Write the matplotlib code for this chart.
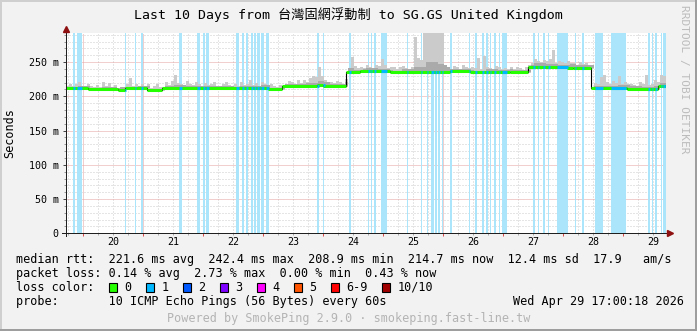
import numpy as np
import matplotlib
matplotlib.use("agg")
import matplotlib.pyplot as plt
from matplotlib.patches import Rectangle

W, H = 697, 331
plt.rcParams['font.family'] = ['DejaVu Sans Mono', 'Noto Sans CJK TC']

title = "Last 10 Days from 台灣固網浮動制 to SG.GS United Kingdom"
t_start = 19 + 17 / 24.0          # Apr 19 17:00
t_end = t_start + 10              # Apr 29 17:00
day_labels = ["20", "21", "22", "23", "24", "25", "26", "27", "28", "29"]
yticks = [0, 50, 100, 150, 200, 250]
ytick_labels = ["0", "50 m", "100 m", "150 m", "200 m", "250 m"]

# median rtt (ms), step segments: start day, value
median_start = [19.71, 20.08, 20.58, 20.70, 21.06, 21.31, 22.08, 22.56, 23.08, 23.31,
                23.89, 24.00, 24.38, 24.61, 25.11, 26.11, 26.44, 27.11, 27.41, 28.06,
                28.16, 28.46, 29.06, 29.58]
median_ms = [211.5, 210.0, 209.0, 211.5, 209.0, 212.5, 211.5, 212.5, 210.5, 215.5,
             216.5, 215.5, 236.0, 237.0, 235.5, 236.5, 235.5, 235.0, 243.0, 242.0,
             241.0, 212.5, 210.5, 215.0]

# periods with 1/10 loss (day of April)
band_start = [19.820, 19.887, 20.695, 20.862, 20.962, 21.595, 21.903, 21.995, 22.053, 22.553,
              22.637, 22.720, 22.803, 22.853, 22.895, 22.928, 22.970, 23.053, 23.587, 23.887,
              23.987, 24.428, 24.737, 24.787, 24.837, 24.970, 25.387, 25.620, 25.723, 25.803,
              25.862, 25.917, 25.973, 26.112, 26.428, 26.528, 26.645, 26.712, 26.770, 26.845,
              26.928, 26.973, 27.500, 27.578, 27.667, 27.750, 27.895, 28.195, 28.312, 28.528,
              28.787, 29.417, 29.473, 29.528, 29.623, 29.662, 29.695]
band_end = [19.862, 19.978, 20.712, 20.878, 20.987, 21.645, 21.953, 22.028, 22.087, 22.595,
            22.670, 22.737, 22.828, 22.878, 22.920, 22.953, 23.012, 23.095, 23.603, 23.928,
            24.020, 24.462, 24.770, 24.812, 24.878, 25.062, 25.417, 25.645, 25.753, 25.837,
            25.890, 25.945, 26.000, 26.137, 26.453, 26.557, 26.678, 26.737, 26.795, 26.873,
            26.953, 27.057, 27.528, 27.603, 27.687, 27.770, 28.070, 28.220, 28.337, 28.662,
            29.045, 29.437, 29.495, 29.557, 29.645, 29.687, 29.708]

# smoke: highest ping above the median (ms), one value per 1.2 h (one row per day)
smoke_hi = [4, 7, 3, 6, 9, 4, 3, 7, 5, 3, 6, 4, 11, 5, 9, 3, 6, 2, 5, 4,
            6, 15, 4, 7, 3, 6, 4, 7, 3, 6, 9, 4, 5, 8, 4, 10, 19, 7, 5, 4,
            10, 6, 4, 8, 5, 3, 7, 4, 6, 9, 4, 3, 7, 10, 5, 3, 6, 4, 8, 4,
            6, 11, 4, 7, 3, 9, 5, 4, 7, 4, 3, 6, 4, 3, 7, 5, 3, 8, 4, 9,
            6, 11, 14, 12, 27, 13, 8, 5, 6, 4, 7, 5, 3, 10, 6, 22, 8, 5, 7, 5,
            8, 6, 4, 9, 7, 17, 8, 5, 6, 8, 5, 7, 9, 6, 4, 8, 51, 20, 18, 70,
            70, 70, 70, 70, 70, 70, 10, 7, 5, 8, 6, 4, 9, 7, 5, 8, 6, 20, 5, 24,
            8, 6, 4, 9, 7, 5, 6, 4, 7, 5, 8, 6, 3, 8, 10, 6, 12, 9, 7, 10,
            8, 11, 24, 6, 9, 7, 5, 8, 6, 7, 5, 9, 6, 8, 4, 5, 7, 6, 16, 19,
            8, 5, 10, 7, 17, 6, 9, 5, 8, 6, 4, 10, 7, 21, 6, 8, 13, 11, 16, 14]
# darker inner smoke, one value per 4.8 h
smoke_dark = [2, 3, 2, 3, 4, 2, 3, 2, 3, 4,
              3, 2, 4, 3, 2, 3, 4, 2, 3, 2,
              4, 6, 3, 5, 3, 4, 3, 2, 4, 8,
              15, 12, 4, 3, 2, 4, 3, 4, 3, 5,
              4, 3, 5, 4, 2, 3, 4, 5, 3, 4]

legend_rtt = "median rtt:  221.6 ms avg  242.4 ms max  208.9 ms min  214.7 ms now  12.4 ms sd  17.9   am/s"
legend_loss = "packet loss: 0.14 % avg  2.73 % max  0.00 % min  0.43 % now"
legend_probe = "probe:       10 ICMP Echo Pings (56 Bytes) every 60s"
stamp = "Wed Apr 29 17:00:18 2026"
footer = "Powered by SmokePing 2.9.0 · smokeping.fast-line.tw"
loss_labels = ["0", "1", "2", "3", "4", "5", "6-9", "10/10"]
loss_colors = ["#26ff00", "#00b8ff", "#0059ff", "#7e00ff", "#ff00ff", "#ff5500", "#ff0000", "#a10000"]


def fx(x):
    return x / W


def fy(y):
    return 1 - y / H


def median_at(t):
    idx = np.searchsorted(median_start, t, side="right") - 1
    return np.asarray(median_ms)[np.clip(idx, 0, len(median_ms) - 1)]


fig = plt.figure(figsize=(W / 100, H / 100), dpi=100, facecolor="#f2f2f2")
ax = fig.add_axes([fx(65.8), fy(233.3), 600 / W, 200 / H])
ax.set_facecolor("white")
ax.set_xlim(t_start, t_end)
ax.set_ylim(0, 292)
for s in ax.spines.values():
    s.set_visible(False)

# grid
ax.set_axisbelow(True)
ax.set_xticks(np.arange(20, 30))
ax.set_xticks(np.arange(19.75, t_end, 0.25), minor=True)
ax.set_yticks(yticks)
ax.set_yticks(np.arange(0, 292, 10), minor=True)
ax.grid(which="minor", color="#cccccc", ls=(0, (1, 2)), lw=0.72)
ax.grid(which="major", color="#e6a0a0", ls=(0, (1, 1)), lw=0.72)
ax.set_xticklabels([])
ax.set_yticklabels(ytick_labels, fontsize=7.2)
ax.tick_params(axis="y", which="major", direction="out", length=2.2, width=0.72, color="#444444", pad=2.9)
ax.tick_params(axis="y", which="minor", direction="out", length=1.4, width=0.72, color="#999999")
ax.tick_params(axis="x", which="major", direction="out", length=2.2, width=0.72, color="#de4e4e")
ax.tick_params(axis="x", which="minor", direction="out", length=1.4, width=0.72, color="#aaaaaa")
for d, lab in zip(range(20, 30), day_labels):
    ax.text(d + 0.5, -0.0435, lab, transform=ax.get_xaxis_transform(),
            ha="center", va="center", fontsize=7.2)

# loss bands
for b0, b1 in zip(band_start, band_end):
    ax.axvspan(b0, b1, color="#aae5fb", lw=0, zorder=1)

# smoke
n = len(smoke_hi)
step = 10.0 / n
ts = t_start + np.arange(n) * step
med_s = median_at(ts)
hi = np.asarray(smoke_hi, dtype=float)
dark_t = t_start + np.arange(len(smoke_dark)) * (10.0 / len(smoke_dark))
dark = np.minimum(np.asarray(smoke_dark)[np.clip(np.searchsorted(dark_t, ts, side="right") - 1, 0, None)], hi)
te = np.append(ts, t_end)
ax.fill_between(te, np.append(med_s - 1.5, med_s[-1] - 1.5), np.append(med_s + hi, med_s[-1] + hi[-1]),
                step="post", color="#cbcbcb", lw=0, zorder=2)
ax.fill_between(te, np.append(med_s, med_s[-1]), np.append(med_s + dark, med_s[-1] + dark[-1]),
                step="post", color="#aaaaaa", lw=0, zorder=2.1)

# median
seg_end = median_start[1:] + [t_end]
ax.step(median_start + [t_end], median_ms + [median_ms[-1]], where="post", color="black", lw=0.8, zorder=3)
ax.hlines(median_ms, median_start, seg_end, color=loss_colors[0], lw=2.2, zorder=4)
for b0, b1 in zip(band_start, band_end):
    ax.hlines(median_at(b0), b0, b1, color=loss_colors[1], lw=2.2, zorder=4.1)

# axes lines with arrows
ax.plot([-0.0065, 1.004], [0, 0], transform=ax.transAxes, color="#202020", lw=0.72, clip_on=False, zorder=5)
ax.plot([0, 0], [-0.013, 1.015], transform=ax.transAxes, color="#202020", lw=0.72, clip_on=False, zorder=5)
ax.plot([1.007], [0], marker=">", ms=4.5, color="#8f1010", transform=ax.transAxes, clip_on=False, zorder=6)
ax.plot([0], [1.022], marker="^", ms=4.5, color="#8f1010", transform=ax.transAxes, clip_on=False, zorder=6)

# texts
fig.text(fx(348.5), fy(15), title, ha="center", va="center", fontsize=9.5)
fig.text(fx(10), fy(133), "Seconds", rotation=90, ha="center", va="center", fontsize=8.5)
fig.text(fx(684), fy(5), "RRDTOOL / TOBI OETIKER", rotation=270, ha="center", va="top",
         fontsize=8, color="#bcbcbc")
fig.text(fx(16), fy(259.3), legend_rtt, ha="left", va="center", fontsize=8.5)
fig.text(fx(16), fy(273.3), legend_loss, ha="left", va="center", fontsize=8.5)
fig.text(fx(16), fy(287.3), "loss color:", ha="left", va="center", fontsize=8.5)
fig.text(fx(16), fy(301.3), legend_probe, ha="left", va="center", fontsize=8.5)
fig.text(fx(513), fy(301.3), stamp, ha="left", va="center", fontsize=8.5)
fig.text(fx(348.5), fy(318.3), footer, ha="center", va="center", fontsize=8.5, color="#b4b4b4")

bx = 108.5
for lab, col in zip(loss_labels, loss_colors):
    fig.patches.append(Rectangle((fx(bx), fy(291.8)), 8.6 / W, 9 / H, transform=fig.transFigure,
                                 facecolor=col, edgecolor="black", lw=0.8))
    fig.text(fx(bx + 16), fy(287.3), lab, ha="left", va="center", fontsize=8.5)
    bx += 37 + (len(lab) - 1) * 7.1

# 3d frame
fig.patches.append(Rectangle((0, 0), 2 / W, 1, transform=fig.transFigure, facecolor="#cfcfcf", lw=0))
fig.patches.append(Rectangle((0, 1 - 2 / H), 1, 2 / H, transform=fig.transFigure, facecolor="#cfcfcf", lw=0))
fig.patches.append(Rectangle((1 - 2 / W, 0), 2 / W, 1, transform=fig.transFigure, facecolor="#9e9e9e", lw=0))
fig.patches.append(Rectangle((0, 0), 1, 2 / H, transform=fig.transFigure, facecolor="#9e9e9e", lw=0))

fig.savefig("out.png", dpi=100, facecolor=fig.get_facecolor())
